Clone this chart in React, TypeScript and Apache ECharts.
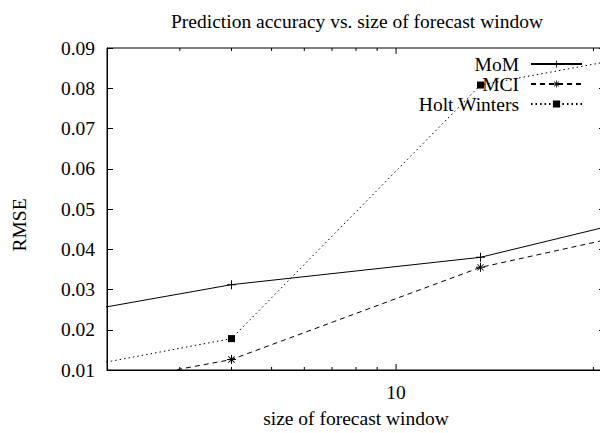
import React, { useEffect, useRef } from "react";
import * as echarts from "echarts";

const xValues = [1, 4, 16, 64];
const momValues = [0.0202, 0.0312, 0.038, 0.053];
const mciValues = [0.0011, 0.0126, 0.0355, 0.0491];
const hwValues = [0.0062, 0.0178, 0.0808, 0.0922];
const minorTicks = [3, 4, 5, 6, 7, 8, 9, 30];
const majorTicks = [10];

const FONT = '"Liberation Serif", "DejaVu Serif", serif';
const FS = 19.5;

const plusPath = "path://M0,4.45H10V5.55H0Z M4.45,0H5.55V10H4.45Z";
const starPath =
  "path://M0,4.45H10V5.55H0Z M4.45,0H5.55V10H4.45Z M1.2,1.9L1.9,1.2L8.8,8.1L8.1,8.8Z M8.1,1.2L8.8,1.9L1.9,8.8L1.2,8.1Z";

export default function App() {
  const ref = useRef<HTMLDivElement>(null);
  useEffect(() => {
    if (!ref.current) return;
    const chart = echarts.init(ref.current, null, { renderer: "svg" });
    const yMin = 0.01;
    const yMax = 0.09;
    const tickData = [
      ...minorTicks.map((v) => [v, yMin, 0]),
      ...majorTicks.map((v) => [v, yMin, 1]),
    ];
    const pairs = (ys: number[]) => xValues.map((x, i) => [x, ys[i]]);
    chart.setOption({
      animation: false,
      textStyle: { fontFamily: FONT, color: "#000" },
      title: {
        text: "Prediction accuracy vs. size of forecast window",
        left: 357,
        textAlign: "center",
        top: 6,
        padding: [5, 0, 5, 0],
        textStyle: { fontFamily: FONT, fontSize: FS, fontWeight: "normal", color: "#000" },
      },
      legend: {
        data: ["MoM", "MCI", "Holt Winters"],
        orient: "vertical",
        right: 25,
        top: 54,
        align: "right",
        itemWidth: 51,
        itemHeight: 9,
        itemGap: 0,
        padding: 0,
        textStyle: { fontFamily: FONT, fontSize: FS, color: "#000", lineHeight: 20, padding: [0, 7, 0, 0] },
      },
      grid: {
        left: 107,
        right: 3,
        top: 48,
        bottom: 58,
        show: true,
        borderColor: "#000",
        borderWidth: 1,
        backgroundColor: "transparent",
      },
      xAxis: [
        {
          type: "log",
          logBase: 10,
          min: 2,
          max: 32,
          name: "size of forecast window",
          nameLocation: "middle",
          nameGap: 38,
          nameTextStyle: { fontFamily: FONT, fontSize: FS, color: "#000" },
          axisLine: { show: true, lineStyle: { color: "#000", width: 1 } },
          axisTick: { show: false },
          minorTick: { show: false },
          splitLine: { show: false },
          axisLabel: {
            fontFamily: FONT,
            fontSize: FS,
            color: "#000",
            margin: 12,
            showMinLabel: false,
            showMaxLabel: false,
            formatter: (v: number) => (Math.abs(v - 10) < 1e-6 ? "10" : ""),
          },
        },
      ],
      yAxis: [
        {
          type: "value",
          min: yMin,
          max: yMax,
          interval: 0.01,
          position: "left",
          name: "RMSE",
          nameLocation: "middle",
          nameRotate: 90,
          nameGap: 78,
          nameTextStyle: { fontFamily: FONT, fontSize: FS, color: "#000", padding: [0, 32, 0, 0] },
          axisLine: { show: true, lineStyle: { color: "#000", width: 1 } },
          axisTick: { show: true, inside: true, length: 6, lineStyle: { color: "#000" } },
          splitLine: { show: false },
          axisLabel: {
            fontFamily: FONT,
            fontSize: FS,
            color: "#000",
            margin: 12,
            formatter: (v: number) => v.toFixed(2),
          },
        },
        {
          type: "value",
          min: yMin,
          max: yMax,
          interval: 0.01,
          position: "right",
          axisLine: { show: true, lineStyle: { color: "#000", width: 1 } },
          axisTick: { show: true, inside: true, length: 6, lineStyle: { color: "#000" } },
          splitLine: { show: false },
          axisLabel: { show: false },
        },
      ],
      series: [
        {
          name: "MoM",
          type: "line",
          data: pairs(momValues),
          symbol: plusPath,
          symbolSize: 9,
          clip: true,
          itemStyle: { color: "#000" },
          lineStyle: { color: "#000", width: 1, type: "solid" },
        },
        {
          name: "MCI",
          type: "line",
          data: pairs(mciValues),
          symbol: starPath,
          symbolSize: 9,
          clip: true,
          itemStyle: { color: "#000" },
          lineStyle: { color: "#000", width: 1, type: [5, 4] },
        },
        {
          name: "Holt Winters",
          type: "line",
          data: pairs(hwValues),
          symbol: "rect",
          symbolSize: 7,
          clip: true,
          itemStyle: { color: "#000" },
          lineStyle: { color: "#000", width: 1, type: [1.5, 3] },
        },
        {
          name: "xticks",
          type: "custom",
          silent: true,
          clip: false,
          encode: { x: 0, y: 1 },
          data: tickData,
          renderItem: (params: any, api: any) => {
            const v = api.value(0);
            const major = api.value(2);
            const b = api.coord([v, yMin]);
            const t = api.coord([v, yMax]);
            const len = major ? 6 : 3;
            return {
              type: "group",
              children: [
                {
                  type: "line",
                  shape: { x1: b[0], y1: b[1], x2: b[0], y2: b[1] - len },
                  style: { stroke: "#000", lineWidth: 1 },
                },
                {
                  type: "line",
                  shape: { x1: t[0], y1: t[1], x2: t[0], y2: t[1] + len },
                  style: { stroke: "#000", lineWidth: 1 },
                },
              ],
            };
          },
        },
      ],
    });
    return () => chart.dispose();
  }, []);
  return <div ref={ref} style={{ width: 608, height: 433, margin: -8 }} />;
}
